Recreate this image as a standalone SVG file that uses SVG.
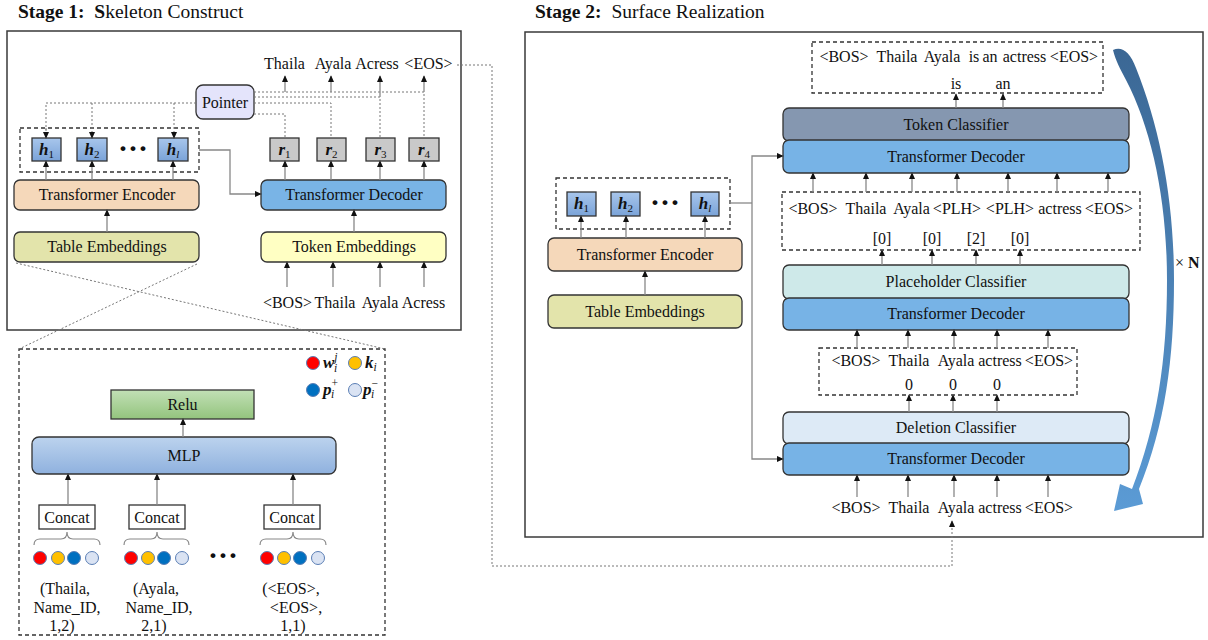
<svg xmlns="http://www.w3.org/2000/svg" width="1208" height="640" viewBox="0 0 1208 640">
<defs>
<style>
text{font-family:"Liberation Serif","Times New Roman",serif;fill:#111;}
.lbl{font-size:16px;text-anchor:middle;}
.seq{font-size:16px;text-anchor:middle;}
.title{font-size:19.5px;white-space:pre;}
.ell{font-size:30px;font-weight:bold;text-anchor:middle;}
.box{stroke:#333;stroke-width:1.3;}
.frame{fill:none;stroke:#3a3a3a;stroke-width:1.5;}
.dash{fill:none;stroke:#333;stroke-width:1.3;stroke-dasharray:4 3;}
.dot{fill:none;stroke:#777;stroke-width:1;stroke-dasharray:2 2;}
.arr{fill:none;stroke:#888;stroke-width:1.3;marker-end:url(#ah);}
.darr{fill:none;stroke:#777;stroke-width:1;stroke-dasharray:2 2;marker-end:url(#ah);}
.ln{fill:none;stroke:#888;stroke-width:1.3;}
.bi{font-weight:bold;font-style:italic;}
.hb{fill:url(#gH);stroke:#333;stroke-width:1.3;}
.rb{fill:#c9c9c9;stroke:#333;stroke-width:1.3;}
.cc{stroke:#5b7fb5;stroke-width:1;}
.brace{fill:none;stroke:#888;stroke-width:1.2;}
</style>
<marker id="ah" viewBox="0 0 10 10" refX="9" refY="5" markerWidth="7" markerHeight="7" orient="auto" markerUnits="userSpaceOnUse"><path d="M0,0.5 L10,5 L0,9.5z" fill="#111"/></marker>
<linearGradient id="gH" x1="0" y1="0" x2="0" y2="1"><stop offset="0" stop-color="#a8c6ec"/><stop offset="1" stop-color="#7aa3d8"/></linearGradient>
<linearGradient id="gMLP" x1="0" y1="0" x2="0" y2="1"><stop offset="0" stop-color="#bcd3ee"/><stop offset="1" stop-color="#8fb1de"/></linearGradient>
<linearGradient id="gRelu" x1="0" y1="0" x2="0" y2="1"><stop offset="0" stop-color="#c2e0b6"/><stop offset="1" stop-color="#93c47d"/></linearGradient>
<linearGradient id="gCurve" x1="0" y1="0" x2="0" y2="1"><stop offset="0" stop-color="#3b6794"/><stop offset="1" stop-color="#5b9bd5"/></linearGradient>
</defs>

<!-- ===== Stage 1 ===== -->
<g id="stage1-title"><text x="18" y="18" class="title"><tspan font-weight="bold">Stage 1:  S</tspan>keleton Construct</text></g>
<g id="stage1-frame"><rect x="7" y="31" width="454" height="299" class="frame"/></g>

<g id="s1-outputs"><text class="seq" y="69"><tspan x="284.5">Thaila</tspan><tspan x="333">Ayala</tspan><tspan x="377">Acress</tspan><tspan x="428.5">&lt;EOS&gt;</tspan></text></g>

<g id="pointer"><rect x="196" y="85" width="58" height="34" rx="7" fill="#e4e4fb" class="box"/><text x="225" y="108" class="lbl">Pointer</text></g>

<g id="s1-hidden">
<rect x="20" y="128" width="179" height="44" class="dash"/>
<rect x="32" y="138" width="29" height="23" class="hb"/>
<text x="46.5" y="155" class="lbl"><tspan class="bi" font-size="17">h</tspan><tspan font-size="11" dy="3">1</tspan></text>
<rect x="77" y="138" width="30" height="23" class="hb"/>
<text x="92" y="155" class="lbl"><tspan class="bi" font-size="17">h</tspan><tspan font-size="11" dy="3">2</tspan></text>
<text x="133" y="158" class="ell">···</text>
<rect x="158" y="138" width="30" height="23" class="hb"/>
<text x="173" y="155" class="lbl"><tspan class="bi" font-size="17">h</tspan><tspan font-size="11" dy="3" font-style="italic">l</tspan></text>
</g>

<g id="s1-r">
<rect x="270" y="138" width="29" height="23" class="rb"/>
<text x="284.5" y="155" class="lbl"><tspan class="bi" font-size="17">r</tspan><tspan font-size="11" dy="3">1</tspan></text>
<rect x="317" y="138" width="29" height="23" class="rb"/>
<text x="331.5" y="155" class="lbl"><tspan class="bi" font-size="17">r</tspan><tspan font-size="11" dy="3">2</tspan></text>
<rect x="366" y="138" width="29" height="23" class="rb"/>
<text x="380.5" y="155" class="lbl"><tspan class="bi" font-size="17">r</tspan><tspan font-size="11" dy="3">3</tspan></text>
<rect x="409" y="138" width="30" height="23" class="rb"/>
<text x="424" y="155" class="lbl"><tspan class="bi" font-size="17">r</tspan><tspan font-size="11" dy="3">4</tspan></text>
</g>

<g id="s1-encoder"><rect x="14" y="180" width="185" height="30" rx="6" fill="#f5d8ba" class="box"/><text x="107" y="200" class="lbl">Transformer Encoder</text></g>
<g id="s1-table"><rect x="14" y="232" width="185" height="30" rx="6" fill="#e3e4ab" class="box"/><text x="107" y="252" class="lbl">Table Embeddings</text></g>
<g id="s1-decoder"><rect x="261" y="180" width="185" height="30" rx="6" fill="#79b4e6" class="box"/><text x="354" y="200" class="lbl">Transformer Decoder</text></g>
<g id="s1-tokemb"><rect x="261" y="232" width="185" height="30" rx="6" fill="#ffffc3" class="box"/><text x="354" y="252" class="lbl">Token Embeddings</text></g>

<g id="s1-inputs"><text class="seq" y="307.5"><tspan x="287.5">&lt;BOS&gt;</tspan><tspan x="335">Thaila</tspan><tspan x="380">Ayala</tspan><tspan x="423.5">Acress</tspan></text></g>

<!-- ===== Table embedding detail ===== -->
<g id="detail-frame"><rect x="19" y="349" width="366" height="286" class="dash" stroke-width="1.1"/></g>

<g id="legend">
<circle cx="313" cy="363" r="6.5" fill="#ff0000" class="cc"/>
<text x="323" y="368" font-size="17"><tspan class="bi">w</tspan><tspan font-size="11.5" font-style="italic" dy="-7">j</tspan><tspan font-size="11.5" font-style="italic" dx="-3.5" dy="11">i</tspan></text>
<circle cx="355" cy="363" r="6.5" fill="#ffc000" class="cc"/>
<text x="365" y="368" font-size="17"><tspan class="bi">k</tspan><tspan font-size="11.5" font-style="italic" dy="3">i</tspan></text>
<circle cx="313" cy="390" r="6.5" fill="#0070c0" class="cc"/>
<text x="323" y="395" font-size="17"><tspan class="bi">p</tspan><tspan font-size="11.5" dy="-8">+</tspan><tspan font-size="11.5" font-style="italic" dx="-7" dy="11">i</tspan></text>
<circle cx="355" cy="390" r="6.5" fill="#dae3f3" class="cc"/>
<text x="363" y="395" font-size="17"><tspan class="bi">p</tspan><tspan font-size="11.5" dy="-8">−</tspan><tspan font-size="11.5" font-style="italic" dx="-7" dy="11">i</tspan></text>
</g>

<g id="relu"><rect x="111" y="390" width="143" height="29" fill="url(#gRelu)" class="box"/><text x="182.5" y="410" class="lbl">Relu</text></g>
<g id="mlp"><rect x="32" y="437" width="304" height="37" rx="7" fill="url(#gMLP)" class="box"/><text x="184" y="461" class="lbl">MLP</text></g>

<g id="concat1"><rect x="39" y="505" width="56" height="24" fill="#fff" class="box"/><text x="67" y="523" class="lbl" font-size="16.5">Concat</text></g>
<g id="concat2"><rect x="129" y="505" width="56" height="24" fill="#fff" class="box"/><text x="157" y="523" class="lbl" font-size="16.5">Concat</text></g>
<g id="concat3"><rect x="264" y="505" width="56" height="24" fill="#fff" class="box"/><text x="292" y="523" class="lbl" font-size="16.5">Concat</text></g>

<g id="braces">
<path class="brace" d="M34 545 Q34 539 40 539 H61 Q67 539 67 532 Q67 539 73 539 H94 Q100 539 100 545"/>
<path class="brace" d="M124 545 Q124 539 130 539 H151 Q157 539 157 532 Q157 539 163 539 H183 Q189 539 189 545"/>
<path class="brace" d="M260 545 Q260 539 266 539 H287 Q293 539 293 532 Q293 539 299 539 H320 Q326 539 326 545"/>
</g>

<g id="cells1">
<circle cx="40" cy="558" r="6.5" fill="#ff0000" class="cc"/><circle cx="58" cy="558" r="6.5" fill="#ffc000" class="cc"/><circle cx="74" cy="558" r="6.5" fill="#0070c0" class="cc"/><circle cx="92" cy="558" r="6.5" fill="#dae3f3" class="cc"/>
</g>
<g id="cells2">
<circle cx="131" cy="558" r="6.5" fill="#ff0000" class="cc"/><circle cx="148" cy="558" r="6.5" fill="#ffc000" class="cc"/><circle cx="164" cy="558" r="6.5" fill="#0070c0" class="cc"/><circle cx="182" cy="558" r="6.5" fill="#dae3f3" class="cc"/>
</g>
<g id="cells3">
<circle cx="267" cy="558" r="6.5" fill="#ff0000" class="cc"/><circle cx="284" cy="558" r="6.5" fill="#ffc000" class="cc"/><circle cx="300" cy="558" r="6.5" fill="#0070c0" class="cc"/><circle cx="318" cy="558" r="6.5" fill="#dae3f3" class="cc"/>
</g>
<text x="223" y="565" class="ell">···</text>

<g id="tuples">
<text class="lbl"><tspan x="65" y="594">(Thaila,</tspan><tspan x="67" y="613">Name_ID,</tspan><tspan x="62" y="631">1,2)</tspan></text>
<text class="lbl"><tspan x="156" y="594">(Ayala,</tspan><tspan x="159" y="613">Name_ID,</tspan><tspan x="154" y="631">2,1)</tspan></text>
<text class="lbl"><tspan x="291" y="594">(&lt;EOS&gt;,</tspan><tspan x="296" y="613">&lt;EOS&gt;,</tspan><tspan x="293" y="631">1,1)</tspan></text>
</g>

<!-- ===== Stage 2 ===== -->
<g id="stage2-title"><text x="535" y="18" class="title"><tspan font-weight="bold">Stage 2:</tspan>  Surface Realization</text></g>
<g id="stage2-frame"><rect x="525" y="32" width="678" height="505" class="frame"/></g>

<g id="s2-hidden">
<rect x="556" y="178" width="174" height="51" class="dash"/>
<rect x="567" y="192" width="29" height="24" class="hb"/>
<text x="581.5" y="209" class="lbl"><tspan class="bi" font-size="17">h</tspan><tspan font-size="11" dy="3">1</tspan></text>
<rect x="611" y="192" width="29" height="24" class="hb"/>
<text x="625.5" y="209" class="lbl"><tspan class="bi" font-size="17">h</tspan><tspan font-size="11" dy="3">2</tspan></text>
<text x="665" y="212" class="ell">···</text>
<rect x="691" y="192" width="28" height="24" class="hb"/>
<text x="705" y="209" class="lbl"><tspan class="bi" font-size="17">h</tspan><tspan font-size="11" dy="3" font-style="italic">l</tspan></text>
</g>
<g id="s2-encoder"><rect x="548" y="238" width="194" height="33" rx="6" fill="#f5d8ba" class="box"/><text x="645" y="260" class="lbl">Transformer Encoder</text></g>
<g id="s2-table"><rect x="548" y="295" width="194" height="33" rx="6" fill="#e3e4ab" class="box"/><text x="645" y="317" class="lbl">Table Embeddings</text></g>

<g id="s2-output">
<rect x="812" y="42" width="291" height="51" class="dash"/>
<text class="seq" y="62"><tspan x="844">&lt;BOS&gt;</tspan><tspan x="897">Thaila</tspan><tspan x="942">Ayala</tspan><tspan x="974">is</tspan><tspan x="990">an</tspan><tspan x="1024.5">actress</tspan><tspan x="1074">&lt;EOS&gt;</tspan></text>
<text class="seq" y="89"><tspan x="956">is</tspan><tspan x="1003">an</tspan></text>
</g>
<g id="token-classifier"><rect x="783" y="108" width="346" height="33" rx="6" fill="#8597b0" class="box"/><text x="956" y="130" class="lbl">Token Classifier</text></g>
<g id="s2-decoder-top"><rect x="783" y="140" width="346" height="33" rx="6" fill="#77b3e6" class="box"/><text x="956" y="162" class="lbl">Transformer Decoder</text></g>

<g id="s2-plh">
<rect x="782" y="192" width="358" height="58" class="dash"/>
<text class="seq" y="214"><tspan x="813">&lt;BOS&gt;</tspan><tspan x="866">Thaila</tspan><tspan x="911.5">Ayala</tspan><tspan x="957">&lt;PLH&gt;</tspan><tspan x="1010">&lt;PLH&gt;</tspan><tspan x="1060">actress</tspan><tspan x="1109">&lt;EOS&gt;</tspan></text>
<text class="seq" y="244"><tspan x="882">[0]</tspan><tspan x="932">[0]</tspan><tspan x="976">[2]</tspan><tspan x="1020">[0]</tspan></text>
</g>
<g id="placeholder-classifier"><rect x="783" y="265" width="346" height="34" rx="6" fill="#cee9e9" class="box"/><text x="956" y="287" class="lbl">Placeholder Classifier</text></g>
<g id="s2-decoder-mid"><rect x="783" y="298" width="346" height="32" rx="6" fill="#77b3e6" class="box"/><text x="956" y="319" class="lbl">Transformer Decoder</text></g>

<g id="s2-del">
<rect x="819" y="348" width="258" height="47" class="dash"/>
<text class="seq" y="366"><tspan x="856">&lt;BOS&gt;</tspan><tspan x="909">Thaila</tspan><tspan x="956">Ayala</tspan><tspan x="1000">actress</tspan><tspan x="1049">&lt;EOS&gt;</tspan></text>
<text class="seq" y="390"><tspan x="909">0</tspan><tspan x="953">0</tspan><tspan x="997">0</tspan></text>
</g>
<g id="deletion-classifier"><rect x="783" y="412" width="346" height="32" rx="6" fill="#ddeaf6" class="box"/><text x="956" y="433" class="lbl">Deletion Classifier</text></g>
<g id="s2-decoder-bottom"><rect x="783" y="443" width="346" height="32" rx="6" fill="#77b3e6" class="box"/><text x="956" y="464" class="lbl">Transformer Decoder</text></g>

<g id="s2-input"><text class="seq" y="513"><tspan x="856">&lt;BOS&gt;</tspan><tspan x="909">Thaila</tspan><tspan x="956">Ayala</tspan><tspan x="1000">actress</tspan><tspan x="1049">&lt;EOS&gt;</tspan></text></g>

<g id="repeat">
<path d="M1113 50 C1122 46 1130 52 1136 68 C1160 128 1174 200 1174 280 C1174 360 1165 425 1139 489 L1143 504 L1114 511 L1120 484 L1132 489 C1157 425 1167 360 1167 280 C1167 200 1152 130 1126 80 C1120 68 1116 62 1113 50 Z" fill="url(#gCurve)"/>
<text x="1175" y="268" font-size="16">× <tspan font-weight="bold">N</tspan></text>
</g>

<!-- ===== Connectors ===== -->
<g id="connectors">
<path class="dot" d="M196 103 H46 V131"/>
<path class="darr" d="M46 128 V138"/>
<path class="darr" d="M92 103 V138"/>
<path class="darr" d="M174 103 V138"/>
<path class="dot" d="M254 92 H424 V138"/>
<path class="dot" d="M254 97 H380 V138"/>
<path class="dot" d="M254 103 H331 V138"/>
<path class="dot" d="M254 114 H285 V138"/>
<path class="arr" d="M285 92 V76"/>
<path class="arr" d="M331 92 V76"/>
<path class="arr" d="M380 97 V76"/>
<path class="arr" d="M424 92 V76"/>
<path class="arr" d="M46 180 V161"/>
<path class="arr" d="M92 180 V161"/>
<path class="arr" d="M173 180 V161"/>
<path class="arr" d="M107 232 V210"/>
<path class="arr" d="M199 150 H230 V194 H261"/>
<path class="arr" d="M285 180 V161"/>
<path class="arr" d="M331 180 V161"/>
<path class="arr" d="M380 180 V161"/>
<path class="arr" d="M424 180 V161"/>
<path class="arr" d="M354 232 V210"/>
<path class="arr" d="M287 287 V262"/>
<path class="arr" d="M333 287 V262"/>
<path class="arr" d="M380 287 V262"/>
<path class="arr" d="M424 287 V262"/>
<path class="dot" d="M16 263 L385 349"/>
<path class="dot" d="M197 264 L19 349"/>
<path class="arr" d="M183 437 V419"/>
<path class="arr" d="M68 505 V474"/>
<path class="arr" d="M157 505 V474"/>
<path class="arr" d="M293 505 V474"/>
<path class="darr" d="M457 65 H492 V566 H952 V521"/>
<path class="arr" d="M581 238 V216"/>
<path class="arr" d="M626 238 V216"/>
<path class="arr" d="M705 238 V216"/>
<path class="arr" d="M645 295 V271"/>
<path class="ln" d="M730 203 H752"/>
<path class="arr" d="M752 203 V156 H783"/>
<path class="arr" d="M752 203 V459 H783"/>
<path class="arr" d="M956 108 V94"/>
<path class="arr" d="M1003 108 V94"/>
<path class="arr" d="M813 192 V173"/>
<path class="arr" d="M866 192 V173"/>
<path class="arr" d="M912 192 V173"/>
<path class="arr" d="M957 192 V173"/>
<path class="arr" d="M1008 192 V173"/>
<path class="arr" d="M1057 192 V173"/>
<path class="arr" d="M1108 192 V173"/>
<path class="arr" d="M882 265 V250"/>
<path class="arr" d="M932 265 V250"/>
<path class="arr" d="M976 265 V250"/>
<path class="arr" d="M1020 265 V250"/>
<path class="arr" d="M857 348 V330"/>
<path class="arr" d="M908 348 V330"/>
<path class="arr" d="M954 348 V330"/>
<path class="arr" d="M997 348 V330"/>
<path class="arr" d="M1048 348 V330"/>
<path class="arr" d="M909 412 V395"/>
<path class="arr" d="M953 412 V395"/>
<path class="arr" d="M997 412 V395"/>
<path class="arr" d="M857 497 V475"/>
<path class="arr" d="M908 497 V475"/>
<path class="arr" d="M954 497 V475"/>
<path class="arr" d="M997 497 V475"/>
<path class="arr" d="M1048 497 V475"/>
</g>
</svg>
